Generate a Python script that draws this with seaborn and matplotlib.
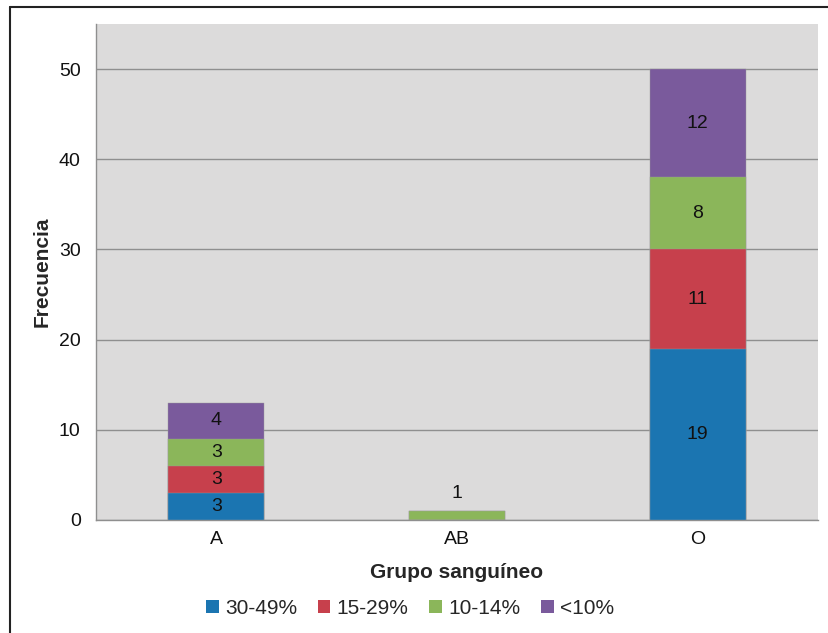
import numpy as np
import pandas as pd
import matplotlib
matplotlib.use("Agg")
import matplotlib.pyplot as plt
from matplotlib.lines import Line2D
from matplotlib.patches import Patch
import seaborn as sns

# Blood groups and counts per range
groups = ["A", "AB", "O"]
ranges = ["30-49%", "15-29%", "10-14%", "<10%"]
counts = {
    "30-49%": [3, 0, 19],
    "15-29%": [3, 0, 11],
    "10-14%": [3, 1, 8],
    "<10%":   [4, 0, 12],
}
colors = ["#1b75b1", "#c7404c", "#8bb65a", "#7a5a9c"]
y_ticks = [0, 10, 20, 30, 40, 50]

sns.set_theme(style="white")
plt.rcParams["font.family"] = ["Liberation Sans", "DejaVu Sans"]

fig = plt.figure(figsize=(8.29, 6.33), dpi=100)
ax = fig.add_axes([96 / 829, 1 - 520 / 633, (818 - 96) / 829, (520 - 24) / 633])
ax.set_facecolor("#dcdbdb")

# cumulative tops for stacking
cum = np.cumsum(np.array([counts[r] for r in ranges]), axis=0)

# draw tallest layers first so lower segments sit on top
for i in reversed(range(len(ranges))):
    df = pd.DataFrame({"grupo": groups, "valor": cum[i]})
    sns.barplot(data=df, x="grupo", y="valor", color=colors[i], width=0.4,
                saturation=1, ax=ax, edgecolor="#9a9a9a", linewidth=0.3,
                zorder=3)

# segment labels
for j, g in enumerate(groups):
    for i, r in enumerate(ranges):
        v = counts[r][j]
        if v == 0:
            continue
        top = cum[i][j]
        if v < 2:
            ax.text(j, top + 1.9, str(v), ha="center", va="center",
                    fontsize=14, color="#111111", zorder=5)
        else:
            ax.text(j, top - v / 2, str(v), ha="center", va="center",
                    fontsize=14, color="#111111", zorder=5)

ax.set_ylim(0, 55)
ax.set_xlim(-0.5, 2.5)
ax.set_yticks(y_ticks)
ax.yaxis.grid(True, color="#8f8f8f", linewidth=1.0, zorder=0)
ax.set_axisbelow(True)
ax.tick_params(axis="both", length=0, labelsize=14, colors="#111111", pad=11)
ax.tick_params(axis="x", pad=8)

for side in ["top", "right"]:
    ax.spines[side].set_visible(False)
ax.spines["left"].set_color("#8f8f8f")
ax.spines["bottom"].set_color("#8f8f8f")
ax.spines["left"].set_linewidth(1.0)
ax.spines["bottom"].set_linewidth(1.0)

ax.set_xlabel("Grupo sanguíneo", fontsize=15, fontweight="bold", labelpad=11)
ax.set_ylabel("Frecuencia", fontsize=15, fontweight="bold", labelpad=5)

handles = [Patch(facecolor=c, edgecolor="none") for c in colors]
fig.legend(handles, ranges, loc="center", bbox_to_anchor=(410 / 829, 1 - 608 / 633),
           ncol=4, frameon=False, fontsize=15, handlelength=0.6, handleheight=0.6,
           handletextpad=0.3, columnspacing=1.0)

# outer frame lines on the left and top
fig.add_artist(Line2D([10 / 829, 10 / 829], [0, 1 - 7 / 633], transform=fig.transFigure,
                      color="#222222", linewidth=1.5))
fig.add_artist(Line2D([10 / 829, 1], [1 - 7 / 633, 1 - 7 / 633], transform=fig.transFigure,
                      color="#222222", linewidth=1.5))

fig.savefig("out.png", dpi=100, facecolor="white")
